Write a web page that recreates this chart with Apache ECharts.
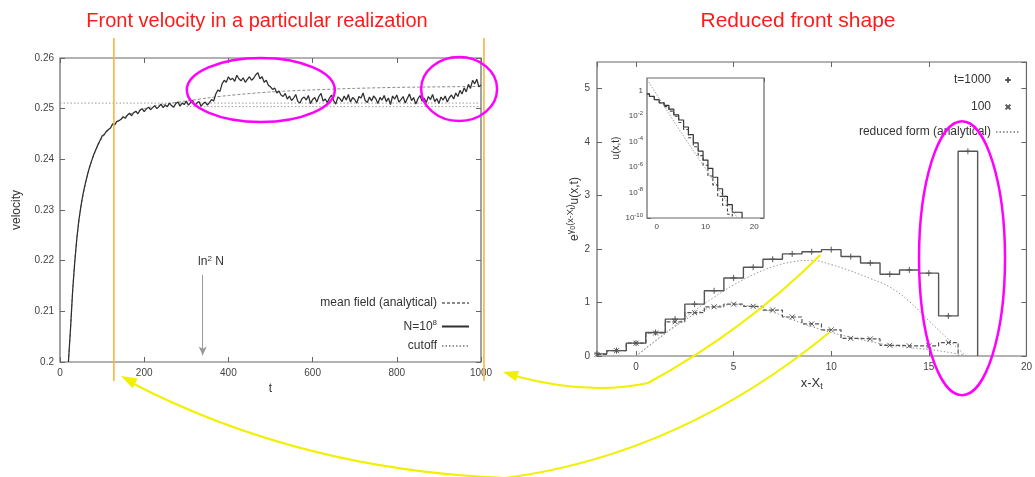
<!DOCTYPE html>
<html><head><meta charset="utf-8">
<script src="https://cdn.jsdelivr.net/npm/echarts@6/dist/echarts.min.js"></script>
<style>html,body{margin:0;padding:0;background:#fff}#c{width:1035px;height:477px}</style>
</head><body><div id="c"></div>
<script>
// ---------- left panel: front velocity ----------
const velStartT = 20, velStepT = 5;
const velocityN1e8 = [
0.2000,0.2066,0.2140,0.2197,0.2244,0.2281,0.2309,0.2333,0.2352,0.2369,
0.2384,0.2397,0.2409,0.2419,0.2429,0.2437,
0.2446,0.2449,0.2455,0.2459,0.2462,0.2470,0.2468,0.2475,0.2476,0.2479,
0.2484,0.2481,0.2487,0.2491,0.2486,0.2492,0.2495,0.2490,0.2497,0.2500,
0.2494,0.2499,0.2503,0.2498,0.2502,0.2506,0.2500,0.2504,0.2509,0.2502,
0.2507,0.2504,0.2511,0.2506,0.2503,0.2510,0.2513,0.2505,0.2511,0.2508,
0.2515,0.2507,0.2512,0.2516,0.2506,0.2511,0.2514,0.2505,0.2510,0.2513,
0.2507,
0.2512,0.2518,0.2515,0.2529,0.2537,0.2534,0.2549,0.2556,0.2552,0.2563,
0.2557,0.2560,0.2554,0.2566,0.2559,0.2555,0.2561,0.2552,0.2558,0.2563,
0.2556,0.2560,0.2567,0.2571,0.2559,0.2563,0.2552,0.2556,0.2546,0.2543,
0.2538,0.2541,0.2531,0.2535,0.2527,0.2524,0.2530,0.2519,
0.2525,0.2516,0.2521,0.2528,0.2514,0.2511,0.2520,0.2523,0.2517,0.2526,
0.2510,0.2518,0.2522,0.2513,0.2524,0.2530,0.2515,0.2519,0.2512,0.2521,
0.2527,0.2516,0.2509,0.2523,0.2520,0.2514,0.2525,0.2517,0.2528,0.2513,
0.2522,0.2518,0.2511,0.2524,0.2521,0.2531,0.2516,0.2512,0.2523,0.2515,
0.2525,0.2520,0.2510,0.2522,0.2517,0.2526,0.2514,0.2521,0.2508,0.2525,
0.2519,0.2527,0.2513,0.2518,0.2524,0.2511,0.2520,0.2529,0.2516,0.2522,
0.2509,0.2519,0.2526,0.2515,0.2521,0.2512,0.2524,0.2518,0.2528,0.2514,
0.2520,0.2510,0.2523,0.2517,0.2525,0.2513,0.2522,
0.2527,0.2519,0.2531,0.2524,0.2536,0.2529,0.2541,0.2533,0.2548,0.2540,
0.2556,0.2549,0.2558,0.2543,0.2547
];
const meanFieldT = [20,25,30,35,40,50,60,70,80,90,100,120,140,160,180,200,250,300,350,400,500,600,700,800,900,1000];
const meanFieldV = [0.2000,0.2065,0.2140,0.2198,0.2244,0.2308,0.2350,0.2383,0.2408,0.2427,0.2442,0.2463,0.2477,0.2487,0.2494,0.2500,0.2509,0.2515,0.2521,0.2526,0.2533,0.2537,0.2540,0.2542,0.2543,0.2544];
const cutoffLevel = 0.2511;
const cutoffLowLevel = 0.2504;
const lnSquaredN = 339;

// ---------- right panel: reduced front shape ----------
const shapeX = [-2,-1,0,1,2,3,4,5,6,7,8,9,10,11,12,13,14,15,16,17];
const shapeT1000 = [0.04,0.10,0.24,0.44,0.69,0.97,1.22,1.46,1.66,1.81,1.91,1.95,1.99,1.86,1.74,1.53,1.61,1.55,0.75,3.83];
const shapeT100  = [0.03,0.10,0.24,0.43,0.64,0.81,0.92,0.97,0.93,0.86,0.73,0.60,0.49,0.33,0.32,0.20,0.19,0.19,0.25];
const reducedX1000 = [0,1,2,3,4,5,6,7,8,9,10,11,12,13,14,15,16,16.9];
const reducedY1000 = [0,0.29,0.57,0.85,1.10,1.33,1.52,1.67,1.76,1.79,1.71,1.59,1.45,1.29,1.02,0.66,0.31,0];
const reducedX100 = [0,1,2,3,4,5,6,7,8,9,10,11,12,13,14,15,16,17];
const reducedY100 = [0,0.28,0.55,0.78,0.92,0.96,0.92,0.82,0.68,0.55,0.44,0.35,0.27,0.20,0.16,0.12,0.07,0];

// inset: log10 u(x,t)
const insetX = [-2,-1,0,1,2,3,4,5,6,7,8,9,10,11,12,13,14,15,16,17];
const insetLogT1000 = [-0.25,-0.45,-0.70,-0.95,-1.15,-1.45,-1.90,-2.30,-2.85,-3.45,-4.10,-4.75,-5.45,-6.10,-6.80,-7.70,-8.30,-8.95,-9.55,-9.55];
const insetLogT100  = [-0.25,-0.45,-0.70,-0.95,-1.25,-1.60,-2.00,-2.50,-3.05,-3.70,-4.40,-5.10,-5.85,-6.70,-7.40,-8.30,-9.00,-9.70];
const insetAnalyticX = [-2,0,2,4,6,8,10,12,14,16,16.6];
const insetAnalyticY = [0.88,-0.30,-1.50,-2.70,-3.85,-5.00,-6.10,-7.30,-8.50,-9.70,-10];

// ---------- helpers ----------
const FONT = 'Liberation Sans, Arial, sans-serif';
const AX = '#666', TXT = '#333';
const PLUS = 'path://M5,0 L5,10 M0,5 L10,5';
const CROSS = 'path://M0,0 L10,10 M10,0 L0,10';
function pairs(xs, ys){ return ys.map((y,i)=>[xs[i], y]); }
const velData = velocityN1e8.map((v,i)=>[velStartT + i*velStepT, v]);

function axisBase(grid, extra){
  return Object.assign({
    gridIndex: grid, type:'value',
    axisLine:{show:false, onZero:false},
    axisTick:{show:true, inside:true, length:5, lineStyle:{color:AX, width:1}},
    axisLabel:{fontFamily:FONT, fontSize:10, color:'#444', margin:6},
    splitLine:{show:false}
  }, extra);
}
function mirror(grid, pos, extra){
  return axisBase(grid, Object.assign({position:pos, axisLabel:{show:false}}, extra));
}
const supRich = {
  n:{fontFamily:FONT, fontSize:12, color:TXT},
  s:{fontFamily:FONT, fontSize:8, color:TXT, padding:[0,0,7,0]}
};
const hidden = {opacity:0, color:'rgba(0,0,0,0)', borderColor:'rgba(0,0,0,0)'};
const legendCommon = {orient:'vertical', align:'right', padding:0, selectedMode:false, itemGap:6,
  textStyle:{fontFamily:FONT, fontSize:12, color:TXT, rich:supRich}};

const option = {
  animation:false,
  backgroundColor:'#fff',
  grid:[
    {left:60, top:58, width:421, height:304, show:true, borderColor:AX, borderWidth:1.2, backgroundColor:'#fff'},
    {left:597, top:62, width:437, height:294, show:true, borderColor:AX, borderWidth:1.2, backgroundColor:'#fff'},
    {left:647, top:78, width:117, height:140, show:true, borderColor:AX, borderWidth:1.2, backgroundColor:'#fff', z:5}
  ],
  xAxis:[
    axisBase(0,{min:0, max:1000, interval:200, position:'bottom', name:'t', nameLocation:'middle', nameGap:17,
      axisLabel:{fontFamily:FONT, fontSize:10, color:'#444', margin:6, formatter:v => String(v)},
      nameTextStyle:{fontFamily:FONT, fontSize:12, color:TXT}}),
    mirror(0,'top',{min:0, max:1000, interval:200}),
    axisBase(1,{min:-2, max:20, splitNumber:4, position:'bottom',
      axisLabel:{fontFamily:FONT, fontSize:10, color:'#444', margin:6, showMinLabel:false},
      name:'{n|x-X}{b|t}', nameLocation:'middle', nameGap:17,
      nameTextStyle:{rich:{n:{fontFamily:FONT,fontSize:13,color:TXT}, b:{fontFamily:FONT,fontSize:9,color:TXT,padding:[0,0,-7,0]}}}}),
    mirror(1,'top',{min:-2, max:20, splitNumber:4}),
    axisBase(2,{min:-2, max:22, splitNumber:2, position:'bottom',
      axisTick:{show:true, inside:true, length:4, lineStyle:{color:AX}},
      axisLabel:{fontFamily:FONT, fontSize:8, color:'#444', margin:5, showMinLabel:false, showMaxLabel:false}}),
    mirror(2,'top',{min:-2, max:22, splitNumber:2, axisTick:{show:true, inside:true, length:4, lineStyle:{color:AX}}})
  ],
  yAxis:[
    axisBase(0,{min:0.2, max:0.26, interval:0.01, position:'left', name:'velocity', nameLocation:'middle', nameGap:37,
      nameTextStyle:{fontFamily:FONT, fontSize:12, color:TXT}}),
    mirror(0,'right',{min:0.2, max:0.26, interval:0.01}),
    axisBase(1,{min:0, max:5.5, interval:1, position:'left',
      axisLabel:{fontFamily:FONT, fontSize:10, color:'#444', margin:7, showMaxLabel:false},
      name:'{n|e}{s|γ}{t|0}{s|(x-X}{t|t}{s|)}{n|u(x,t)}', nameLocation:'middle', nameGap:14,
      nameTextStyle:{rich:{
        n:{fontFamily:FONT,fontSize:12,color:TXT},
        s:{fontFamily:FONT,fontSize:9,color:TXT,padding:[0,0,8,0]},
        t:{fontFamily:FONT,fontSize:7,color:TXT,padding:[0,0,3,0]}}}}),
    mirror(1,'right',{min:0, max:5.5, interval:1}),
    axisBase(2,{min:-10, max:1, interval:2, position:'left',
      axisTick:{show:true, inside:true, length:4, lineStyle:{color:AX}},
      axisLabel:{margin:4, showMaxLabel:false,
        formatter:v => v === 0 ? '{m|1}' : '{m|10}{s|' + v + '}',
        rich:{m:{fontFamily:FONT,fontSize:8,color:'#444'}, s:{fontFamily:FONT,fontSize:6,color:'#444',padding:[0,0,6,0]}}},
      name:'u(x,t)', nameLocation:'middle', nameGap:26, nameTextStyle:{fontFamily:FONT,fontSize:10,color:TXT}}),
    mirror(2,'right',{min:-10, max:1, interval:2, axisTick:{show:true, inside:true, length:4, lineStyle:{color:AX}}})
  ],
  legend:[
    Object.assign({}, legendCommon, {data:[{name:'mean field (analytical)', itemStyle:hidden}], right:565, top:297, itemWidth:27, itemHeight:12}),
    Object.assign({}, legendCommon, {data:[{name:'N=10^8', itemStyle:hidden}], right:565, top:319, itemWidth:27, itemHeight:12,
      formatter:n => '{n|N=10}{s|8}'}),
    Object.assign({}, legendCommon, {data:[{name:'cutoff', itemStyle:hidden}], right:565, top:340, itemWidth:27, itemHeight:12}),
    Object.assign({}, legendCommon, {data:[{name:'t=1000', lineStyle:{opacity:0}}], right:14, top:74, itemWidth:24, itemHeight:7}),
    Object.assign({}, legendCommon, {data:[{name:'100', lineStyle:{opacity:0}}], right:14, top:101, itemWidth:24, itemHeight:6}),
    Object.assign({}, legendCommon, {data:[{name:'reduced form (analytical)', itemStyle:hidden}], right:14, top:126, itemWidth:24, itemHeight:12})
  ],
  series:[
    {name:'mean field (analytical)', type:'line', xAxisIndex:0, yAxisIndex:0, data:pairs(meanFieldT, meanFieldV),
      symbol:'none', smooth:0.3, itemStyle:{color:'#8a8a8a'}, lineStyle:{color:'#8a8a8a', width:1, type:[3,2]}, z:2},
    {name:'cutoff', type:'line', xAxisIndex:0, yAxisIndex:0, data:[[0,cutoffLevel],[1000,cutoffLevel]],
      symbol:'none', itemStyle:{color:'#999'}, lineStyle:{color:'#999', width:1, type:[1.5,2]}, z:2,
      markLine:{silent:true, symbol:['none','arrow'], symbolSize:[6,9], label:{show:false},
        lineStyle:{color:'#9a9a9a', width:1, type:'solid'},
        data:[[{coord:[lnSquaredN, 0.2172]},{coord:[lnSquaredN, 0.2013]}]]}},
    {name:'cutoff low', type:'line', xAxisIndex:0, yAxisIndex:0, data:[[300,cutoffLowLevel],[1000,cutoffLowLevel]],
      symbol:'none', lineStyle:{color:'#999', width:1, type:[1.5,2]}, z:2},
    {name:'N=10^8', type:'line', xAxisIndex:0, yAxisIndex:0, data:velData,
      symbol:'none', itemStyle:{color:'#2e2e2e'}, lineStyle:{color:'#2e2e2e', width:1.25}, z:3},

    {name:'t=1000', type:'line', xAxisIndex:2, yAxisIndex:2, step:'middle',
      data:pairs(shapeX, shapeT1000).concat([{value:[17.5,3.83],symbol:'none'},{value:[17.5,0],symbol:'none'}]),
      symbol:PLUS, symbolSize:6, symbolKeepAspect:true,
      itemStyle:{color:'#555', borderColor:'#555', borderWidth:1},
      lineStyle:{color:'#555', width:1.4}, z:3},
    {name:'100', type:'line', xAxisIndex:2, yAxisIndex:2, step:'middle',
      data:pairs(shapeX, shapeT100).concat([{value:[16.5,0.25],symbol:'none'},{value:[16.5,0],symbol:'none'}]),
      symbol:CROSS, symbolSize:5, symbolKeepAspect:true,
      itemStyle:{color:'#555', borderColor:'#555', borderWidth:1},
      lineStyle:{color:'#555', width:1.2, type:[4,2]}, z:3},
    {name:'reduced form (analytical)', type:'line', xAxisIndex:2, yAxisIndex:2, data:pairs(reducedX1000, reducedY1000),
      symbol:'none', smooth:0.4, itemStyle:{color:'#999'}, lineStyle:{color:'#999', width:1, type:[1.5,2]}, z:2},
    {name:'reduced form t=100', type:'line', xAxisIndex:2, yAxisIndex:2, data:pairs(reducedX100, reducedY100),
      symbol:'none', smooth:0.4, lineStyle:{color:'#999', width:1, type:[1.5,2]}, z:2},

    {name:'inset t=1000', type:'line', xAxisIndex:4, yAxisIndex:4, step:'middle',
      data:pairs(insetX, insetLogT1000).concat([[17.5,-9.55],[17.5,-10]]),
      symbol:'none', lineStyle:{color:'#333', width:1.2}, z:6},
    {name:'inset t=100', type:'line', xAxisIndex:4, yAxisIndex:4, step:'middle',
      data:pairs(insetX.slice(0, insetLogT100.length), insetLogT100).concat([[15.5,-9.7],[15.5,-10]]),
      symbol:'none', lineStyle:{color:'#444', width:1.1, type:[3,2]}, z:6},
    {name:'inset analytic', type:'line', xAxisIndex:4, yAxisIndex:4, data:pairs(insetAnalyticX, insetAnalyticY),
      symbol:'none', lineStyle:{color:'#999', width:0.9, type:[1.5,1.5]}, z:6}
  ]
};

const chart = echarts.init(document.getElementById('c'));
chart.setOption(option);

const P = (g, x, y) => chart.convertToPixel({gridIndex:g}, [x, y]);
function head(tip, from, len, w){
  const dx = tip[0]-from[0], dy = tip[1]-from[1], d = Math.hypot(dx,dy), ux = dx/d, uy = dy/d;
  const bx = tip[0]-ux*len, by = tip[1]-uy*len;
  return [[tip[0],tip[1]],[bx-uy*w/2, by+ux*w/2],[bx+uy*w/2, by-ux*w/2]];
}
const ORANGE = '#f6b53c', MAG = '#ff00ff', YEL = '#f0f000';
const o1 = P(0, 128, 0.23)[0], o2 = P(0, 1007, 0.23)[0];
const e1 = P(0, 477, 0.25368), e2 = P(0, 948, 0.25388), e3 = P(1, 16.7, 1.83);
const lnPos = P(0, 328, 0.2197);
const a1s = P(1, 9.44, 1.89), a2s = P(1, 9.9, 0.44);

const graphic = [
  {type:'text', z:100, style:{text:'Front velocity in a particular realization', x:257, y:21, textAlign:'center', textVerticalAlign:'middle', font:'20px ' + FONT, fill:'#ff1a1a'}},
  {type:'text', z:100, style:{text:'Reduced front shape', x:798, y:21, textAlign:'center', textVerticalAlign:'middle', font:'21px ' + FONT, fill:'#ff1a1a'}},
  {type:'line', z:100, shape:{x1:o1, y1:38, x2:o1, y2:381}, style:{stroke:ORANGE, lineWidth:1.6}},
  {type:'line', z:100, shape:{x1:o2, y1:38, x2:o2, y2:381}, style:{stroke:ORANGE, lineWidth:1.6}},
  {type:'ellipse', z:100, shape:{cx:e1[0], cy:e1[1], rx:74, ry:32}, style:{fill:'none', stroke:MAG, lineWidth:2.5}},
  {type:'ellipse', z:100, shape:{cx:e2[0], cy:e2[1], rx:38, ry:32}, style:{fill:'none', stroke:MAG, lineWidth:2.5}},
  {type:'ellipse', z:100, shape:{cx:e3[0], cy:e3[1], rx:43, ry:137}, style:{fill:'none', stroke:MAG, lineWidth:2.5}},
  {type:'text', z:100, style:{text:'{a|ln}{b|2}{a| N}', x:lnPos[0], y:lnPos[1], textAlign:'left', textVerticalAlign:'middle',
    rich:{a:{fontFamily:FONT, fontSize:12, fill:TXT, color:TXT}, b:{fontFamily:FONT, fontSize:8, fill:TXT, color:TXT, padding:[0,0,7,0]}}}},
  {type:'bezierCurve', z:100, shape:{x1:a1s[0], y1:a1s[1], cpx1:745, cpy1:330, x2:648, y2:383}, style:{fill:'none', stroke:YEL, lineWidth:2}},
  {type:'bezierCurve', z:100, shape:{x1:648, y1:383, cpx1:590, cpy1:396, x2:515, y2:376}, style:{fill:'none', stroke:YEL, lineWidth:2}},
  {type:'polygon', z:100, shape:{points:head([503,372],[590,396],15,11)}, style:{fill:YEL}},
  {type:'bezierCurve', z:100, shape:{x1:a2s[0], y1:a2s[1], cpx1:680, cpy1:455, x2:505, y2:478}, style:{fill:'none', stroke:YEL, lineWidth:2}},
  {type:'bezierCurve', z:100, shape:{x1:505, y1:478, cpx1:300, cpy1:470, x2:132, y2:383}, style:{fill:'none', stroke:YEL, lineWidth:2}},
  {type:'polygon', z:100, shape:{points:head([121,376],[300,470],16,11)}, style:{fill:YEL}}
];
chart.setOption({graphic:graphic});
</script>
</body></html>
